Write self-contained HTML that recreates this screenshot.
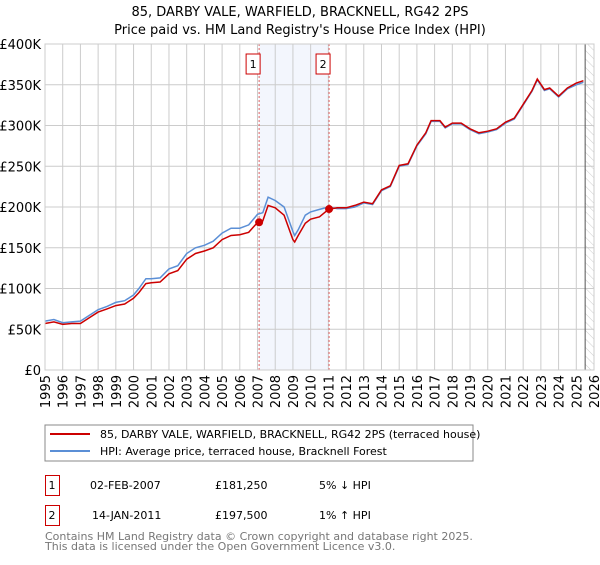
<!DOCTYPE html>
<html><head><meta charset="utf-8"><style>
body{margin:0;background:#fff;font-family:"Liberation Sans","DejaVu Sans",sans-serif;}
svg text{font-family:"DejaVu Sans","Liberation Sans",sans-serif;}
</style></head><body>
<svg id="c" width="600" height="560" xmlns="http://www.w3.org/2000/svg">
<defs><pattern id="hatch" width="6" height="6" patternUnits="userSpaceOnUse" patternTransform="rotate(-45)"><line x1="0" y1="0" x2="0" y2="6" stroke="#ccc" stroke-width="1"/></pattern></defs>
<text x="300" y="16" text-anchor="middle" font-size="13">85, DARBY VALE, WARFIELD, BRACKNELL, RG42 2PS</text>
<text x="300" y="34" text-anchor="middle" font-size="13">Price paid vs. HM Land Registry's House Price Index (HPI)</text>
<g id="plot"></g>
<rect x="45" y="425" width="428" height="36" fill="#fff" stroke="#888"/>
<line x1="50" y1="434" x2="90" y2="434" stroke="#cc0000" stroke-width="2"/>
<text x="100" y="438" font-size="11">85, DARBY VALE, WARFIELD, BRACKNELL, RG42 2PS (terraced house)</text>
<line x1="50" y1="451" x2="90" y2="451" stroke="#5b8fd6" stroke-width="2"/>
<text x="100" y="455" font-size="11">HPI: Average price, terraced house, Bracknell Forest</text>
<rect x="45.5" y="475.5" width="14" height="20" fill="none" stroke="#cc0000"/>
<text x="52" y="489" font-size="11" text-anchor="middle">1</text>
<text x="90" y="489" font-size="11">02-FEB-2007</text>
<text x="215" y="489" font-size="11">£181,250</text>
<text x="319" y="489" font-size="11">5% ↓ HPI</text>
<rect x="45.5" y="505.5" width="14" height="20" fill="none" stroke="#cc0000"/>
<text x="52" y="519" font-size="11" text-anchor="middle">2</text>
<text x="92" y="519" font-size="11">14-JAN-2011</text>
<text x="215" y="519" font-size="11">£197,500</text>
<text x="319" y="519" font-size="11">1% ↑ HPI</text>
<text x="45" y="540" font-size="11" fill="#777">Contains HM Land Registry data © Crown copyright and database right 2025.</text>
<text x="45" y="550" font-size="11" fill="#777">This data is licensed under the Open Government Licence v3.0.</text>
</svg>
<script>
const years=[1995,1995.5,1996,1996.5,1997,1997.5,1998,1998.5,1999,1999.5,2000,2000.3,2000.7,2001,2001.5,2002,2002.5,2003,2003.5,2004,2004.5,2005,2005.5,2006,2006.5,2007,2007.3,2007.6,2008,2008.5,2009,2009.1,2009.3,2009.7,2010,2010.5,2011,2011.5,2012,2012.5,2013,2013.5,2014,2014.5,2015,2015.5,2016,2016.5,2016.8,2017.3,2017.6,2018,2018.5,2019,2019.5,2020,2020.5,2021,2021.5,2022,2022.5,2022.8,2023.2,2023.5,2024,2024.5,2025,2025.4];
const hpiValues=[60,62,58,59,60,67,74,78,83,85,92,100,112,112,113,124,128,143,150,153,158,168,174,174,178,191,193,212,208,200,170,165,172,190,194,197,200,198,198,200,205,203,220,225,250,252,275,290,305,305,297,302,302,295,290,292,295,303,308,325,342,356,343,345,335,345,350,353];
const priceValues=[57,59,56,57,57,64,71,75,79,81,88,95,106,107,108,118,122,136,143,146,150,160,165,166,169,181,183,202,199,190,160,157,165,180,185,188,197,199,199,202,206,204,221,226,251,253,276,291,306,306,298,303,303,296,291,293,296,304,309,326,343,357,344,346,336,346,352,355];
const saleYears=[2007.09,2011.04];
const saleValues=[181.25,197.5];
const saleLabels=["1","2"];
const yTicks=[0,50,100,150,200,250,300,350,400];
const xTicks=[1995,1996,1997,1998,1999,2000,2001,2002,2003,2004,2005,2006,2007,2008,2009,2010,2011,2012,2013,2014,2015,2016,2017,2018,2019,2020,2021,2022,2023,2024,2025,2026];
const X0=45,X1=594,Y0=370,Y1=44;
const xs=y=>X0+(y-1995)/31*(X1-X0);
const ys=v=>Y0-v/400*(Y0-Y1);
const g=document.getElementById('plot');
const NS='http://www.w3.org/2000/svg';
function mk(t,a){const e=document.createElementNS(NS,t);for(const k in a)e.setAttribute(k,a[k]);g.appendChild(e);return e;}
let e=mk('rect',{x:xs(saleYears[0]),y:Y1,width:xs(saleYears[1])-xs(saleYears[0]),height:Y0-Y1,fill:'#f3f6fd'});


e=mk('rect',{x:xs(2025.5),y:Y1,width:X1-xs(2025.5),height:Y0-Y1,fill:'url(#hatch)'});


yTicks.forEach(v=>{
 let l=mk('line',{x1:X0,x2:X1,y1:ys(v),y2:ys(v),stroke:'#ccc'});
 
 
 let t=mk('text',{x:X0-4,y:ys(v)+5,'text-anchor':'end','font-size':13});
 t.textContent=v===0?'£0':'£'+v+'K';
 
 
});
xTicks.forEach(y=>{
 let l=mk('line',{x1:xs(y),x2:xs(y),y1:Y1,y2:Y0,stroke:'#ccc'});
 
 
 let t=mk('text',{x:0,y:0,'text-anchor':'end','font-size':13,transform:`translate(${xs(y)+5},${Y0+5}) rotate(-90)`});
 t.textContent=y;
 
 
});
e=mk('line',{x1:xs(2025.5),x2:xs(2025.5),y1:Y1,y2:Y0,stroke:'#555'});


saleYears.forEach((s,i)=>{
 let l=mk('line',{x1:xs(s),x2:xs(s),y1:Y1,y2:Y0,stroke:'#e06060','stroke-dasharray':'2,2'});
 
 
 let r=mk('rect',{x:xs(s)-13,y:54,width:14,height:20,fill:'#fff',stroke:'#cc0000'});
 
 
 let t=mk('text',{x:xs(s)-6,y:68,'text-anchor':'middle','font-size':11});
 t.textContent=saleLabels[i];
 
 
});
const path=(vals)=>years.map((y,i)=>(i?'L':'M')+xs(y).toFixed(1)+','+ys(vals[i]).toFixed(1)).join('');
e=mk('path',{d:path(hpiValues),fill:'none',stroke:'#5b8fd6','stroke-width':1.5});


e=mk('path',{d:path(priceValues),fill:'none',stroke:'#cc0000','stroke-width':1.5});


saleYears.forEach((s,i)=>{
 let c=mk('circle',{cx:xs(s),cy:ys(saleValues[i]),r:4,fill:'#cc0000'});
 
 
});
e=mk('rect',{x:X0,y:Y1,width:X1-X0,height:Y0-Y1,fill:'none',stroke:'#ccc'});


</script>
</body></html>
